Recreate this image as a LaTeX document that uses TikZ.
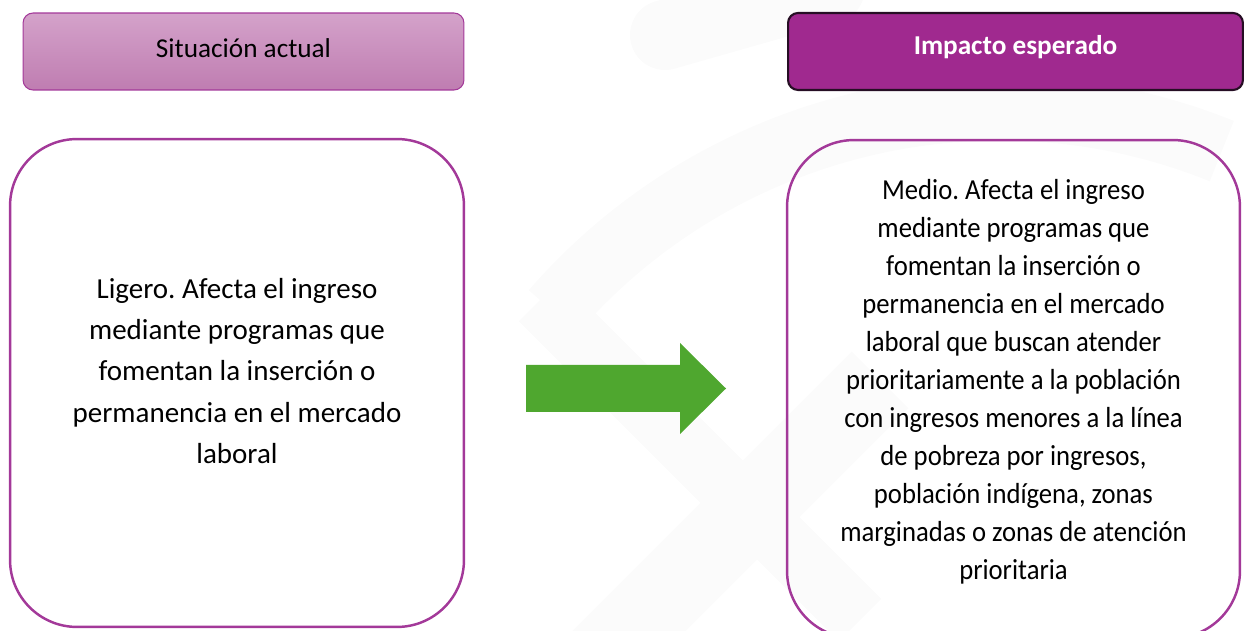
\documentclass[tikz,border=0pt]{standalone}
\usepackage{fontspec}
\setmainfont{Carlito}
\newfontfamily\angosta{Carlito}[FakeStretch=0.92]
\usepackage{tikz}
\frenchspacing
\definecolor{Morado}{RGB}{160,41,143}
\definecolor{Borde}{RGB}{163,57,153}
\definecolor{BordeOsc}{RGB}{38,14,36}
\definecolor{Claro}{RGB}{212,162,202}
\definecolor{ClaroB}{RGB}{191,125,177}
\definecolor{Verde}{RGB}{79,167,47}
\definecolor{Marca}{RGB}{251,251,251}

\begin{document}
\begin{tikzpicture}[x=0.02cm,y=-0.02cm]
\useasboundingbox (0,0) rectangle (1244,631);
%marca de agua
\draw[Marca, line width=1.3cm] (1000,700) ++(221:592) arc (221:292:592);
\draw[Marca, line width=1.2cm] (540,300)--(860,620);
\draw[Marca, line width=1.6cm] (600,660)--(880,380);
\draw[Marca, line width=1.4cm, line cap=round] (665,35)--(830,-12);
%encabezados
\node[draw=Borde, line width=0.6pt, top color=Claro, bottom color=ClaroB, rounded corners=0.2cm,
  minimum width=8.82cm, minimum height=1.54cm] (sit) at (243.5,51.5) {};
\node[font=\fontsize{15.5}{18}\selectfont] (sitt) at (243.5,48.5) {Situación actual};
\node[draw=BordeOsc, line width=1.2pt, fill=Morado, rounded corners=0.2cm,
  minimum width=9.1cm, minimum height=1.54cm] (imp) at (1015.5,51.5) {};
\node[text=white, font=\fontsize{15.5}{18}\selectfont\bfseries] (impt) at (1015.5,47.5) {Impacto esperado};
%cajas
\node[draw=Borde, line width=1.4pt, rounded corners=1.34cm, minimum width=9.08cm, minimum height=9.76cm] (lig) at (237,383) {};
\node[align=center, font=\fontsize{16.5}{23.5}\selectfont] (ligt) at (237,371)
  {Ligero. Afecta el ingreso\\ mediante programas que\\ fomentan la inserción o\\ permanencia en el mercado\\ laboral};
\node[draw=Borde, line width=1.4pt, rounded corners=1.34cm, minimum width=9.06cm, minimum height=9.96cm] (med) at (1013.5,389) {};
\node[align=center, font=\angosta\fontsize{16.5}{21.6}\selectfont] (medt) at (1013.5,382)
  {Medio. Afecta el ingreso\\ mediante programas que\\ fomentan la inserción o\\ permanencia en el mercado\\
  laboral que buscan atender\\ prioritariamente a la población\\ con ingresos menores a la línea\\
  de pobreza por ingresos,\\ población indígena, zonas\\ marginadas o zonas de atención\\ prioritaria};
%flecha
\fill[Verde] (526,365)--(680,365)--(680,343)--(726,388.5)--(680,434)--(680,412)--(526,412)--cycle;
\end{tikzpicture}
\end{document}
